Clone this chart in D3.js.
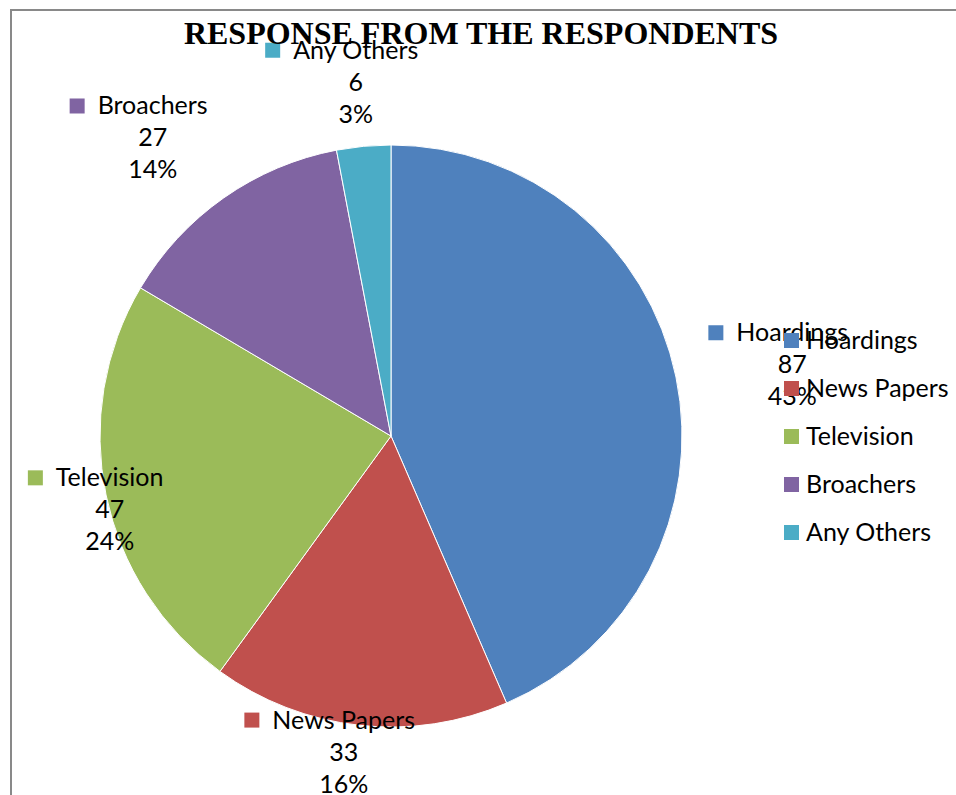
<!DOCTYPE html>
<html>
<head>
<meta charset="utf-8">
<script src="https://cdn.jsdelivr.net/npm/d3@7"></script>
<style>
  html, body { margin: 0; padding: 0; background: #fff; }
  svg { display: block; }
</style>
</head>
<body>
<svg id="chart" width="956" height="795"></svg>
<script>
// Survey data: media through which respondents came to know
const categories = ["Hoardings", "News Papers", "Television", "Broachers", "Any Others"];
const responses = [87, 33, 47, 27, 6];
const percentLabels = ["43%", "16%", "24%", "14%", "3%"];
const colors = ["#4F81BD", "#C0504D", "#9BBB59", "#8064A2", "#4BACC6"];

// Data label placement: distance from centre (in radii) and angular nudge (deg)
const labelRadius = [1.40, 1.10, 1.00, 1.31, 1.22];
const labelNudge = [1.7, 2.2, -3.1, -3.6, -0.3];

const width = 956, height = 795;
const cx = 391, cy = 436, radius = 291;
const labelFont = "Lato, 'Open Sans', sans-serif";
const labelSize = 25;

const svg = d3.select("#chart");

// Chart area frame
svg.append("rect")
  .attr("x", 11).attr("y", 10)
  .attr("width", width + 20).attr("height", height + 20)
  .attr("fill", "#fff")
  .attr("stroke", "#898989")
  .attr("stroke-width", 2);

const rows = categories.map((c, i) => ({ name: c, value: responses[i], pct: percentLabels[i], color: colors[i], i }));

const pie = d3.pie().sort(null).value(d => d.value);
const arcs = pie(rows);
const arc = d3.arc().innerRadius(0).outerRadius(radius);

const g = svg.append("g").attr("transform", `translate(${cx},${cy})`);

g.selectAll("path.slice")
  .data(arcs)
  .join("path")
  .attr("class", "slice")
  .attr("d", arc)
  .attr("fill", d => d.data.color)
  .attr("stroke", "#fff")
  .attr("stroke-width", 1);

// Data labels: category, value and share, centred, with a colour key
const lineGap = 32;
const labels = svg.append("g");
arcs.forEach(a => {
  const i = a.data.i;
  const mid = (a.startAngle + a.endAngle) / 2 + labelNudge[i] * Math.PI / 180;
  const r = radius * labelRadius[i];
  const lx = cx + r * Math.sin(mid);
  const ly = cy - r * Math.cos(mid);
  const lines = [a.data.name, String(a.data.value), a.data.pct];
  const grp = labels.append("g");
  let firstWidth = 0;
  lines.forEach((t, k) => {
    const txt = grp.append("text")
      .attr("x", lx)
      .attr("y", ly + (k - 1) * lineGap + 8)
      .attr("text-anchor", "middle")
      .attr("font-family", labelFont)
      .attr("font-size", labelSize)
      .attr("fill", "#000")
      .text(t);
    if (k === 0) firstWidth = txt.node().getComputedTextLength();
  });
  const baseline0 = ly - lineGap + 8;
  grp.insert("rect", "text")
    .attr("x", lx - firstWidth / 2 - 28)
    .attr("y", baseline0 - 16)
    .attr("width", 15).attr("height", 15)
    .attr("fill", a.data.color);
});

// Legend
const legend = svg.append("g").attr("transform", "translate(784,333)");
const items = legend.selectAll("g")
  .data(rows)
  .join("g")
  .attr("transform", (d, i) => `translate(0,${i * 48})`);
items.append("rect")
  .attr("width", 15).attr("height", 15)
  .attr("fill", d => d.color);
items.append("text")
  .attr("x", 22).attr("y", 16)
  .attr("font-family", labelFont)
  .attr("font-size", labelSize)
  .attr("fill", "#000")
  .text(d => d.name);

// Title
svg.append("text")
  .attr("x", 481).attr("y", 44)
  .attr("text-anchor", "middle")
  .attr("font-family", "'Liberation Serif', 'Times New Roman', serif")
  .attr("font-weight", "bold")
  .attr("font-size", 32)
  .attr("fill", "#000")
  .text("RESPONSE FROM THE RESPONDENTS");
</script>
</body>
</html>
